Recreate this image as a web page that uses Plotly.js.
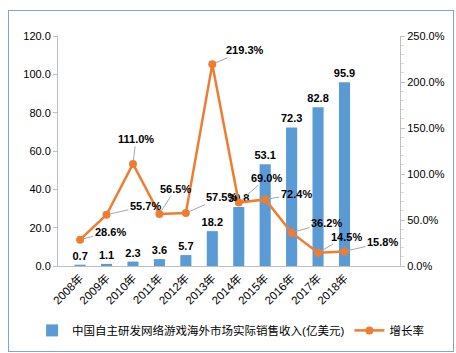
<!DOCTYPE html>
<html><head><meta charset="utf-8">
<script src="https://cdn.plot.ly/plotly-3.0.1.min.js"></script>
<style>
html,body{margin:0;padding:0;background:#fff;width:456px;height:353px;overflow:hidden;}
#frame{position:absolute;left:8px;top:10px;width:444px;height:340px;border:1.5px solid #7FA7CC;}
#chart{width:444px;height:340px;}
</style></head>
<body><div id="frame"><div id="chart"></div></div>
<script>
const years = ['2008年','2009年','2010年','2011年','2012年','2013年','2014年','2015年','2016年','2017年','2018年'];
const revenue = [0.7, 1.1, 2.3, 3.6, 5.7, 18.2, 30.8, 53.1, 72.3, 82.8, 95.9];
const growth = [28.6, 55.7, 111.0, 56.5, 57.5, 219.3, 69.0, 72.4, 36.2, 14.5, 15.8];
const growthLabels = ['28.6%','55.7%','111.0%','56.5%','57.5%','219.3%','69.0%','72.4%','36.2%','14.5%','15.8%'];
const labelOffsetX = [30, 39, 3, 16, 36, 33, 28, 31, 35, 28, 38];
const labelOffsetY = [-8, -9, -25, -25, -16, -14, -25, -5, -10, -16, -9];
const barName = '中国自主研发网络游戏海外市场实际销售收入(亿美元)';
const lineName = '增长率';

const FONT = 'Liberation Sans, Arial, "Noto Sans CJK SC", sans-serif';
const W = 444, PL = 49, PR = 391;

const annotations = years.map((y, i) => ({
  x: y, y: growth[i], xref: 'x', yref: 'y2',
  text: '<b>' + growthLabels[i] + '</b>',
  showarrow: true, arrowhead: 0, arrowwidth: 1, arrowcolor: '#A6A6A6',
  ax: labelOffsetX[i], ay: labelOffsetY[i], standoff: 4,
  font: {family: FONT, size: 11, color: '#000'}
}));

const data = [
  {type: 'bar', x: years, y: revenue, name: barName,
   marker: {color: '#5B9BD5'},
   text: revenue.map(v => v.toFixed(1)), textposition: 'outside', cliponaxis: false,
   constraintext: 'none',
   textfont: {family: FONT, size: 11, color: '#000', weight: 'bold'},
   hoverinfo: 'skip'},
  {type: 'scatter', mode: 'lines+markers', x: years, y: growth, yaxis: 'y2', name: lineName,
   line: {color: '#ED7D31', width: 2.5}, marker: {color: '#ED7D31', size: 8},
   cliponaxis: false, hoverinfo: 'skip'}
];

const layout = {
  width: W, height: 340,
  margin: {l: 0, r: 0, t: 25, b: 85},
  paper_bgcolor: '#fff', plot_bgcolor: '#fff',
  font: {family: FONT, size: 11, color: '#000'},
  showlegend: true,
  bargap: 0.58,
  xaxis: {type: 'category', domain: [PL / W, PR / W], tickangle: -45, showline: true, linecolor: '#BFBFBF',
          ticks: '', showgrid: false, tickfont: {size: 11.5, color: '#000'}, automargin: false},
  yaxis: {range: [0, 120], dtick: 20, tickformat: '.1f', showgrid: false, zeroline: false,
          showline: true, linecolor: '#BFBFBF', ticks: 'outside', ticklen: 4, tickcolor: '#BFBFBF',
          tickfont: {size: 11}, automargin: false},
  yaxis2: {overlaying: 'y', side: 'right', range: [0, 250], dtick: 50, tickformat: '.1f', ticksuffix: '%',
           showgrid: false, zeroline: false, showline: true, linecolor: '#BFBFBF',
           ticks: 'outside', ticklen: 4, tickcolor: '#BFBFBF',
           minor: {dtick: 10, ticks: 'outside', ticklen: 3, tickcolor: '#D9D9D9'},
           tickfont: {size: 11}, automargin: false},
  legend: {orientation: 'h', x: 0.052, xanchor: 'left', y: -0.28, yanchor: 'middle',
           font: {size: 11.5, color: '#000'}, itemwidth: 30},
  annotations: annotations
};

Plotly.newPlot('chart', data, layout, {displayModeBar: false, staticPlot: true});
</script></body></html>
